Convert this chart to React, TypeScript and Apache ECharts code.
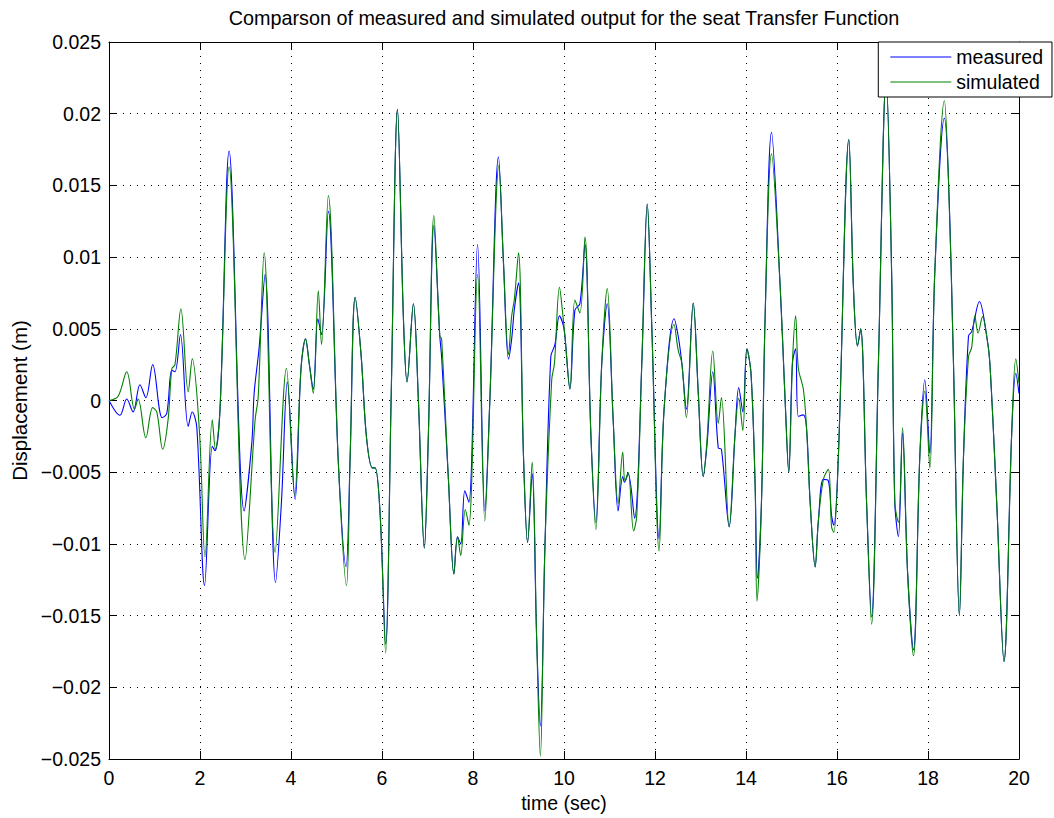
import React, { useEffect, useRef } from "react";
import * as echarts from "echarts";

const titleText = "Comparson of measured and simulated output for the seat Transfer Function";
const xName = "time (sec)";
const yName = "Displacement (m)";
const seriesNames = ["measured", "simulated"];

const measured: [number, number][] = [
  [0, 0], [0.24, -0.00103], [0.39, 0.0001], [0.53, -0.0008], [0.68, 0.0011], [0.81, 0.0002],
  [0.96, 0.0025], [1.17, -0.0012], [1.27, -0.0009], [1.38, 0.0021], [1.45, 0.002], [1.57, 0.0046],
  [1.74, -0.0018], [1.83, -0.0008], [1.93, -0.0019], [2.1, -0.0129], [2.27, -0.0032], [2.33, -0.0035],
  [2.44, -0.0006], [2.64, 0.0174], [2.97, -0.0077], [3.14, -0.0029], [3.19, 0.0005], [3.3, 0.0037],
  [3.43, 0.0088], [3.66, -0.0127], [3.79, -0.0071], [3.92, 0.0013], [4.09, -0.0069], [4.22, 0.00225],
  [4.32, 0.0043], [4.4, 0.0026], [4.49, 0.0008], [4.59, 0.0057], [4.67, 0.0046], [4.82, 0.0132],
  [5.04, -0.0043], [5.21, -0.0116], [5.3, -0.0039], [5.41, 0.0072], [5.54, 0.0032], [5.66, -0.0026],
  [5.79, -0.0047], [5.85, -0.0047], [5.96, -0.008], [6.08, -0.017], [6.2, 0.0], [6.34, 0.0203],
  [6.47, 0.0058], [6.55, 0.0013], [6.69, 0.00675], [6.8, 0.0], [6.93, -0.0103], [7.02, -0.0023],
  [7.14, 0.0122], [7.27, 0.0045], [7.31, 0.00305], [7.46, -0.0055], [7.58, -0.0121], [7.66, -0.0095],
  [7.73, -0.01], [7.82, -0.0063], [7.91, -0.0071], [8.1, 0.0109], [8.26, -0.0077], [8.37, 0.0],
  [8.56, 0.017], [8.67, 0.0096], [8.78, 0.0029], [8.85, 0.0043], [8.91, 0.0064], [9.0, 0.0082],
  [9.11, -0.0039], [9.2, -0.0099], [9.3, -0.0051], [9.4, -0.0167], [9.48, -0.0227], [9.58, -0.0103],
  [9.71, 0.00305], [9.8, 0.0039], [9.9, 0.0059], [9.98, 0.0053], [10.02, 0.0045], [10.13, 0.0008],
  [10.24, 0.0063], [10.35, 0.00675], [10.46, 0.0109], [10.59, -0.0023], [10.7, -0.0085], [10.83, 0.0026],
  [10.95, 0.00675], [11.08, -0.0013], [11.19, -0.0077], [11.29, -0.0053], [11.33, -0.0057], [11.41, -0.0051],
  [11.55, -0.0082], [11.71, 0.0026], [11.83, 0.0137], [11.93, 0.0051], [12.09, -0.00965], [12.2, -0.0006],
  [12.42, 0.0057], [12.51, 0.0045], [12.59, 0.0026], [12.69, -0.0006], [12.84, 0.0068], [12.95, 0.0006],
  [13.06, -0.0053], [13.14, -0.0032], [13.27, 0.002], [13.39, -0.0033], [13.46, -0.0034], [13.63, -0.0088],
  [13.76, -0.0023], [13.84, 0.0009], [13.93, -0.0008], [14.02, 0.0036], [14.11, 0.0019], [14.2, -0.0058],
  [14.25, -0.0124], [14.34, -0.0071], [14.42, 0.0058], [14.56, 0.0187], [14.75, 0.008], [14.86, 0.0],
  [14.94, -0.005], [15.02, 0.0026], [15.09, 0.0036], [15.15, -0.0011], [15.26, -0.001], [15.33, -0.0019],
  [15.41, -0.0071], [15.52, -0.0116], [15.59, -0.0084], [15.7, -0.0055], [15.81, -0.0056], [15.88, -0.008],
  [15.93, -0.0087], [16.03, -0.0039], [16.26, 0.0182], [16.36, 0.008], [16.45, 0.0038], [16.52, 0.005],
  [16.65, -0.0071], [16.76, -0.0151], [16.91, 0.0026], [17.08, 0.0225], [17.2, 0.009], [17.27, -0.0071],
  [17.35, -0.0095], [17.44, -0.00225], [17.55, -0.0119], [17.68, -0.0174], [17.82, -0.0039], [17.93, 0.00145],
  [18.04, -0.0037], [18.15, 0.009], [18.36, 0.0197], [18.45, 0.0154], [18.56, 0.0026], [18.69, -0.015],
  [18.78, -0.0039], [18.89, 0.0045], [18.96, 0.0048], [19.13, 0.0069], [19.29, 0.0045], [19.36, 0.0026],
  [19.51, -0.0071], [19.67, -0.0182], [19.84, -0.00225], [19.93, 0.0019], [20.0, 0.0005],
];

const simulated: [number, number][] = [
  [0, 0], [0.2, 0.0003], [0.39, 0.002], [0.56, -0.0006], [0.64, 0.0001], [0.81, -0.0026],
  [0.96, -0.0005], [1.05, -0.0008], [1.18, -0.0034], [1.3, -0.0013], [1.38, 0.0022], [1.45, 0.0025],
  [1.58, 0.0064], [1.74, 0.0006], [1.83, 0.0029], [1.99, -0.0023], [2.11, -0.0109], [2.27, -0.00135],
  [2.34, -0.0034], [2.44, -0.0006], [2.64, 0.0163], [2.99, -0.0111], [3.21, -0.0014], [3.28, 0.0003],
  [3.41, 0.0103], [3.65, -0.0106], [3.9, 0.00225], [4.08, -0.0066], [4.22, 0.00225], [4.32, 0.0043],
  [4.4, 0.0026], [4.49, 0.0005], [4.6, 0.00765], [4.67, 0.0039], [4.82, 0.0143], [5.04, -0.0043],
  [5.22, -0.0129], [5.3, -0.0039], [5.41, 0.0072], [5.54, 0.0032], [5.66, -0.0026], [5.79, -0.0047],
  [5.85, -0.0047], [5.96, -0.008], [6.08, -0.0176], [6.2, 0.0], [6.34, 0.0203], [6.47, 0.0058],
  [6.55, 0.0013], [6.69, 0.00675], [6.8, 0.0], [6.93, -0.0103], [7.02, -0.0023], [7.14, 0.0129],
  [7.27, 0.0045], [7.31, 0.0043], [7.46, -0.0055], [7.58, -0.0121], [7.66, -0.0095], [7.73, -0.0108],
  [7.83, -0.0076], [7.91, -0.0087], [8.1, 0.0088], [8.26, -0.0084], [8.37, 0.0], [8.57, 0.0164],
  [8.67, 0.0096], [8.78, 0.0032], [8.85, 0.0059], [8.91, 0.0071], [9.0, 0.0103], [9.11, -0.0039],
  [9.2, -0.0099], [9.3, -0.0043], [9.4, -0.0167], [9.48, -0.0248], [9.58, -0.0103], [9.73, 0.00145],
  [9.79, 0.0026], [9.9, 0.0079], [9.98, 0.0058], [10.02, 0.0045], [10.13, 0.0008], [10.24, 0.007],
  [10.35, 0.0061], [10.46, 0.0114], [10.59, -0.0023], [10.7, -0.009], [10.83, 0.0026], [10.95, 0.0078],
  [11.08, -0.0013], [11.19, -0.0072], [11.29, -0.0036], [11.34, -0.0056], [11.41, -0.005], [11.53, -0.0091],
  [11.6, -0.008], [11.71, 0.0026], [11.83, 0.0137], [11.93, 0.0051], [12.09, -0.0105], [12.2, -0.0006],
  [12.42, 0.0053], [12.51, 0.0035], [12.59, 0.0026], [12.69, -0.0012], [12.84, 0.0068], [12.95, 0.0006],
  [13.06, -0.0053], [13.14, -0.0029], [13.27, 0.00345], [13.39, -0.0016], [13.46, 0.0002], [13.63, -0.0088],
  [13.76, -0.0023], [13.84, 0.00015], [13.93, -0.0021], [14.02, 0.0036], [14.11, 0.0019], [14.2, -0.0058],
  [14.24, -0.014], [14.34, -0.0071], [14.42, 0.0058], [14.56, 0.0172], [14.75, 0.008], [14.86, 0.0],
  [14.94, -0.005], [15.02, 0.0026], [15.09, 0.0059], [15.15, 0.00225], [15.26, 0.0008], [15.33, -0.0019],
  [15.41, -0.0071], [15.52, -0.0116], [15.59, -0.0084], [15.7, -0.0055], [15.81, -0.0048], [15.88, -0.0088],
  [15.93, -0.0092], [16.03, -0.0039], [16.26, 0.0182], [16.36, 0.008], [16.45, 0.0038], [16.52, 0.005],
  [16.65, -0.0071], [16.76, -0.0156], [16.91, 0.0026], [17.08, 0.0225], [17.2, 0.009], [17.27, -0.0071],
  [17.35, -0.0085], [17.44, -0.0019], [17.55, -0.0119], [17.68, -0.0178], [17.82, -0.0039], [17.93, 0.00065],
  [18.04, -0.0047], [18.15, 0.009], [18.36, 0.0209], [18.45, 0.0154], [18.56, 0.0026], [18.69, -0.015],
  [18.78, -0.0039], [18.89, 0.00305], [18.96, 0.0037], [19.03, 0.0059], [19.1, 0.0047], [19.2, 0.00585],
  [19.29, 0.0045], [19.36, 0.0026], [19.51, -0.0071], [19.67, -0.0182], [19.84, -0.00225], [19.93, 0.0029],
  [20.0, 0.0012],
];

const FONT = "'Liberation Sans', Arial, Helvetica, sans-serif";

function fmtY(v: number): string {
  const r = parseFloat(v.toFixed(4));
  if (r === 0) return "0";
  const s = Math.abs(r).toString();
  return r < 0 ? "\u2212" + s : s;
}

export default function App() {
  const ref = useRef<HTMLDivElement>(null);
  useEffect(() => {
    if (!ref.current) return;
    const chart = echarts.init(ref.current, undefined, { renderer: "svg" });
    const tickStyle = { inside: true, length: 8, lineStyle: { color: "#000", width: 1 } };
    const axisLine = { show: true, onZero: false, lineStyle: { color: "#000", width: 1 } };
    const grid = { show: true, lineStyle: { color: "#000", width: 1, type: [1, 6] as number[] } };
    chart.setOption({
      animation: false,
      backgroundColor: "#fff",
      textStyle: { fontFamily: FONT },
      graphic: [
        {
          type: "text",
          x: 564,
          y: 18,
          style: {
            text: titleText,
            fontFamily: FONT,
            fontSize: 19.8,
            fill: "#000",
            textAlign: "center",
            textVerticalAlign: "middle",
          },
        },
      ],
      legend: {
        data: seriesNames.map((n) => ({ name: n, icon: "rect" })),
        orient: "vertical",
        right: 2,
        top: 42,
        padding: [5, 9, 5, 12],
        itemGap: 5,
        itemWidth: 61,
        itemHeight: 1.2,
        itemTextGap: 7,
        backgroundColor: "#fff",
        borderColor: "#000",
        borderWidth: 1,
        borderRadius: 0,
        textStyle: { fontFamily: FONT, fontSize: 19.5, color: "#000", lineHeight: 20 },
      },
      grid: { left: 109, top: 42, width: 910, height: 717, containLabel: false },
      xAxis: [
        {
          type: "value",
          min: 0,
          max: 20,
          interval: 2,
          name: xName,
          nameLocation: "middle",
          nameGap: 34,
          nameTextStyle: { fontFamily: FONT, fontSize: 19.5, color: "#000" },
          axisLine,
          axisTick: tickStyle,
          axisLabel: { fontFamily: FONT, fontSize: 19.5, color: "#000", margin: 9 },
          splitLine: grid,
        },
        {
          type: "value",
          position: "top",
          min: 0,
          max: 20,
          interval: 2,
          axisLine,
          axisTick: tickStyle,
          axisLabel: { show: false },
          splitLine: { show: false },
        },
      ],
      yAxis: [
        {
          type: "value",
          min: -0.025,
          max: 0.025,
          interval: 0.005,
          name: yName,
          nameLocation: "middle",
          nameGap: 74,
          nameTextStyle: { fontFamily: FONT, fontSize: 20.5, color: "#000" },
          axisLine,
          axisTick: tickStyle,
          axisLabel: { fontFamily: FONT, fontSize: 19.5, color: "#000", margin: 8, formatter: fmtY },
          splitLine: grid,
        },
        {
          type: "value",
          position: "right",
          min: -0.025,
          max: 0.025,
          interval: 0.005,
          axisLine,
          axisTick: tickStyle,
          axisLabel: { show: false },
          splitLine: { show: false },
        },
      ],
      series: [
        {
          name: seriesNames[0],
          type: "line",
          data: measured,
          symbol: "none",
          smooth: 0.35,
          clip: true,
          lineStyle: { color: "#0000ff", width: 1.1 },
          itemStyle: { color: "#0000ff" },
        },
        {
          name: seriesNames[1],
          type: "line",
          data: simulated,
          symbol: "none",
          smooth: 0.35,
          clip: true,
          lineStyle: { color: "#008000", width: 1.1 },
          itemStyle: { color: "#008000" },
        },
      ],
    });
    return () => chart.dispose();
  }, []);
  return (
    <div
      ref={ref}
      style={{ position: "fixed", left: 0, top: 0, width: 1054, height: 818, background: "#fff" }}
    />
  );
}
